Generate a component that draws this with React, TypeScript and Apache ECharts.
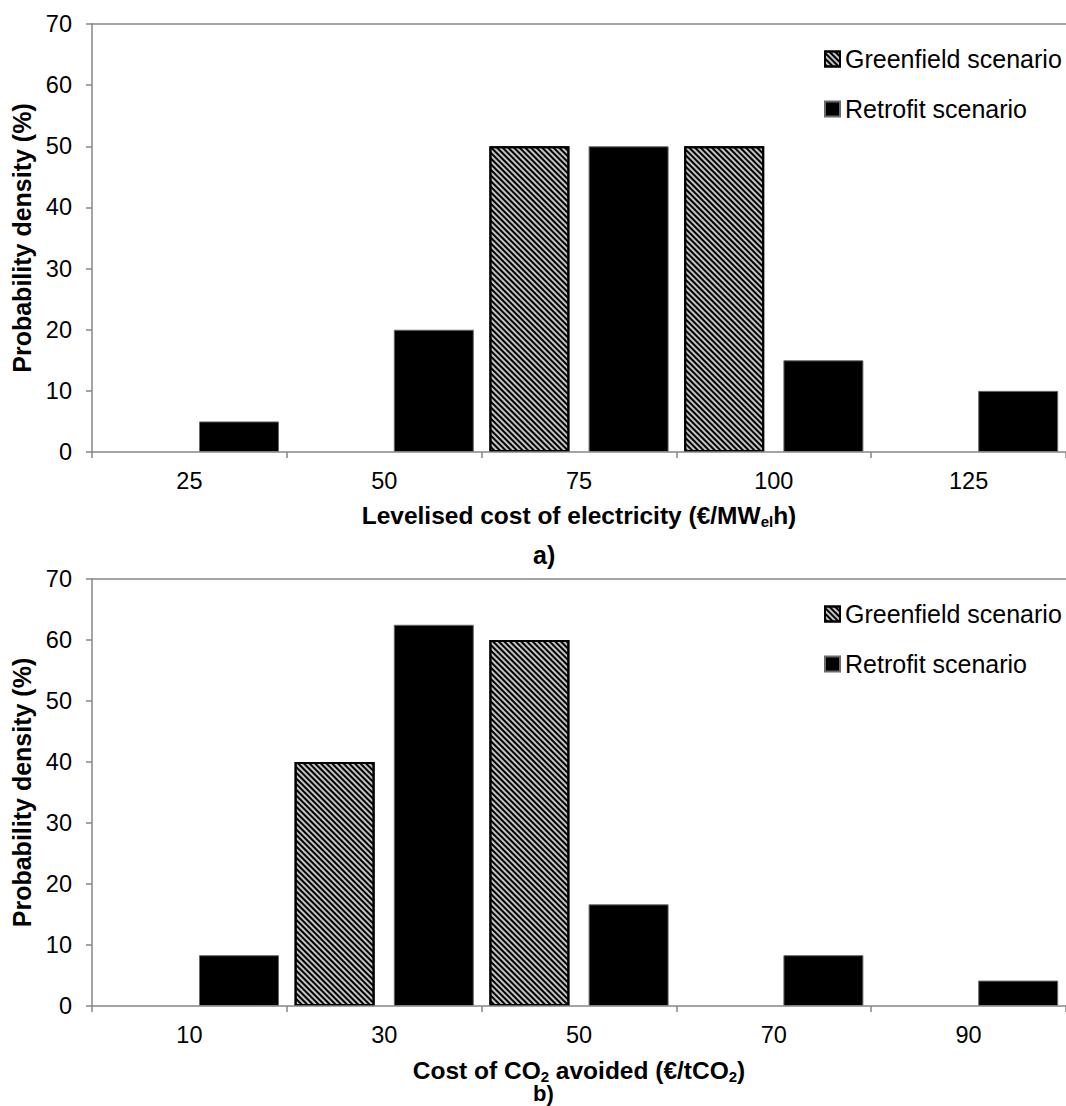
import React, { useEffect, useRef } from "react";
import * as echarts from "echarts";

const categoriesA = ["25", "50", "75", "100", "125"];
const greenfieldA = [0, 0, 50, 50, 0];
const retrofitA = [5, 20, 50, 15, 10];

const categoriesB = ["10", "30", "50", "70", "90"];
const greenfieldB = [0, 40, 60, 0, 0];
const retrofitB = [8.33, 62.5, 16.67, 8.33, 4.17];

const seriesNames = ["Greenfield scenario", "Retrofit scenario"];
const yMin = 0;
const yMax = 70;
const yInterval = 10;

const FONT = 'Arial, "Liberation Sans", sans-serif';
const AXIS_GRAY = "#868686";

const hideZero = (arr: number[]) => arr.map((v) => (v === 0 ? "-" : v));

export default function App() {
  const ref = useRef<HTMLDivElement>(null);

  useEffect(() => {
    if (!ref.current) return;
    const chart = echarts.init(ref.current, undefined, { renderer: "svg" });

    const grids = [
      { left: 92, top: 24, width: 980, height: 428 },
      { left: 92, top: 579, width: 980, height: 427 },
    ];

    const xNames = [
      "{t|Levelised cost of electricity (€/MW}{s|el}{t|h)}",
      "{t|Cost of CO}{s|2}{t| avoided (€/tCO}{s|2}{t|)}",
    ];
    const cats = [categoriesA, categoriesB];
    const nameGaps = [49, 50];

    const richName = {
      t: { fontSize: 24.5, fontWeight: "bold", fontFamily: FONT, color: "#000", lineHeight: 28, verticalAlign: "middle" },
      s: { fontSize: 15, fontWeight: "bold", fontFamily: FONT, color: "#000", lineHeight: 10, verticalAlign: "bottom" },
    };

    const xAxes: any[] = [];
    [0, 1].forEach((i) => {
      xAxes.push({
        type: "category",
        gridIndex: i,
        position: "bottom",
        data: cats[i],
        z: 5,
        axisLine: { show: true, lineStyle: { color: AXIS_GRAY, width: 1.5 } },
        axisTick: { show: true, alignWithLabel: false, length: 6, lineStyle: { color: AXIS_GRAY, width: 1.5 } },
        axisLabel: { show: true, fontSize: 23.5, fontFamily: FONT, color: "#000", margin: 17 },
        name: xNames[i],
        nameLocation: "middle",
        nameGap: nameGaps[i],
        nameTextStyle: { rich: richName },
        splitLine: { show: false },
      });
    });
    [0, 1].forEach((i) => {
      xAxes.push({
        type: "category",
        gridIndex: i,
        position: "top",
        data: cats[i],
        axisLine: { show: true, lineStyle: { color: AXIS_GRAY, width: 1.5 } },
        axisTick: { show: false },
        axisLabel: { show: false },
        splitLine: { show: false },
      });
    });

    const yAxes = [0, 1].map((i) => ({
      type: "value",
      gridIndex: i,
      min: yMin,
      max: yMax,
      interval: yInterval,
      axisLine: { show: true, lineStyle: { color: AXIS_GRAY, width: 1.5 } },
      axisTick: { show: true, length: 6, lineStyle: { color: AXIS_GRAY, width: 1.5 } },
      axisLabel: { fontSize: 23.5, fontFamily: FONT, color: "#000", margin: 20 },
      splitLine: { show: false },
      name: "Probability density (%)",
      nameLocation: "middle",
      nameRotate: 90,
      nameGap: 57,
      nameTextStyle: { fontSize: 25, fontWeight: "bold", fontFamily: FONT, color: "#000" },
    }));

    const greenStyle = {
      color: "#c4c4c4",
      borderColor: "#000",
      borderWidth: 2,
      decal: {
        symbol: "rect",
        symbolSize: 1,
        dashArrayX: [1, 0],
        dashArrayY: [1.1, 1.1],
        rotation: Math.PI / 4,
        color: "#000",
      },
    };
    const retroStyle = { color: "#000", borderColor: "#6a6a6a", borderWidth: 1 };

    const greens = [greenfieldA, greenfieldB];
    const retros = [retrofitA, retrofitB];
    const series: any[] = [];
    [0, 1].forEach((i) => {
      series.push({
        type: "bar",
        name: seriesNames[0],
        xAxisIndex: i,
        yAxisIndex: i,
        data: hideZero(greens[i]),
        barWidth: 80,
        barGap: "24%",
        itemStyle: greenStyle,
      });
      series.push({
        type: "bar",
        name: seriesNames[1],
        xAxisIndex: i,
        yAxisIndex: i,
        data: hideZero(retros[i]),
        barWidth: 80,
        barGap: "24%",
        itemStyle: retroStyle,
      });
    });

    const legendBase = {
      orient: "vertical",
      left: 824,
      padding: 0,
      itemWidth: 15,
      itemHeight: 15,
      itemGap: 24,
      icon: "rect",
      selectedMode: false,
      textStyle: { fontSize: 25, fontFamily: FONT, color: "#000", lineHeight: 26 },
      data: seriesNames,
    };

    chart.setOption({
      animation: false,
      backgroundColor: "#fff",
      grid: grids,
      xAxis: xAxes,
      yAxis: yAxes,
      series,
      legend: [
        { ...legendBase, top: 46 },
        { ...legendBase, top: 601 },
      ],
      graphic: [
        {
          type: "text",
          left: 533,
          top: 542,
          style: { text: "a)", fontSize: 25, fontWeight: "bold", fontFamily: FONT, fill: "#000", lineHeight: 26 },
        },
        {
          type: "text",
          left: 533,
          top: 1082,
          style: { text: "b)", fontSize: 22, fontWeight: "bold", fontFamily: FONT, fill: "#000", lineHeight: 20 },
        },
      ],
    });

    return () => chart.dispose();
  }, []);

  return (
    <div
      ref={ref}
      style={{ position: "absolute", left: 0, top: 0, width: 1066, height: 1106 }}
    />
  );
}
